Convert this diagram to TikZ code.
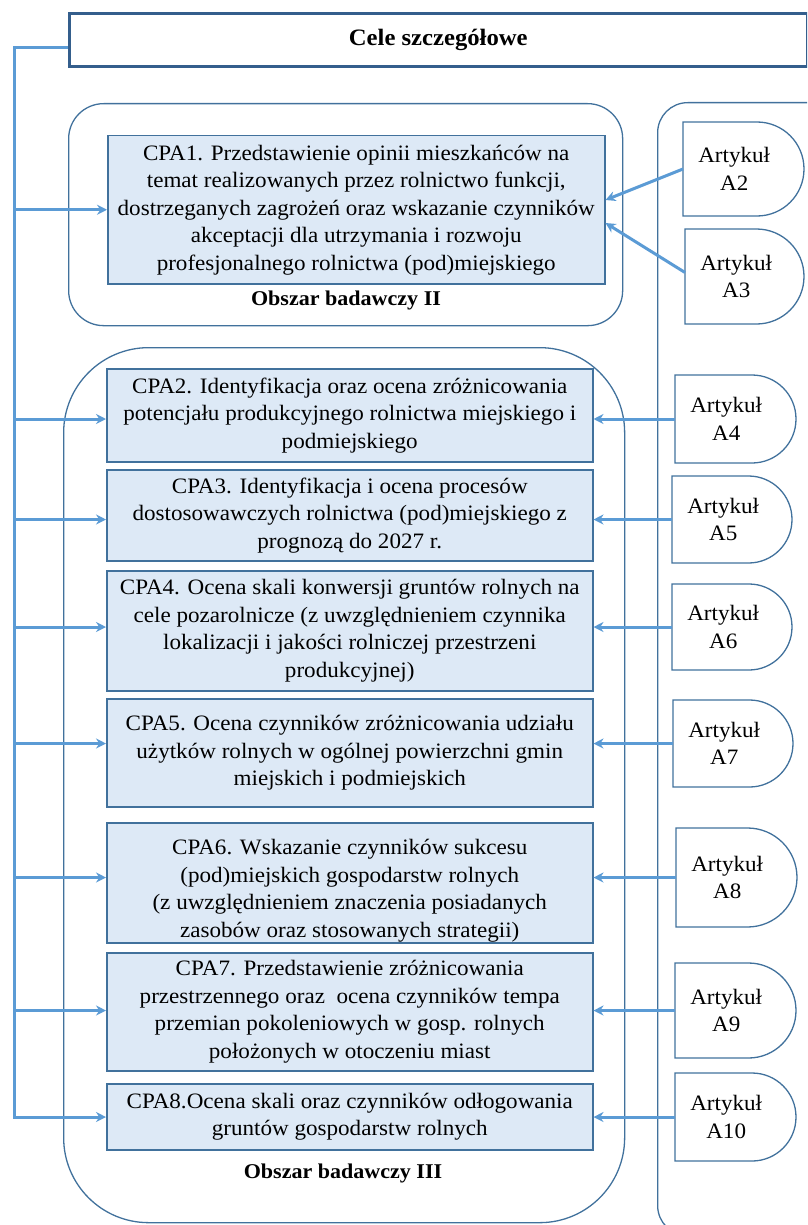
\documentclass[tikz,border=0pt]{standalone}
\usepackage{fontspec}
\setmainfont{Liberation Serif}[FakeStretch=1.05]
\usetikzlibrary{arrows.meta,calc}

\definecolor{arrowblue}{RGB}{91,155,213}
\definecolor{edgeblue}{RGB}{65,113,156}
\definecolor{boxfill}{RGB}{221,233,246}
\definecolor{titleedge}{RGB}{52,94,140}

% D-shaped article badge: name, left, top, bottom, right, number
\newcommand\artykul[6]{%
  \pgfmathsetmacro\artr{(#4-#3)/2}%
  \draw[area] (#2,#3) -- ({#5-\artr},#3)
    arc[start angle=90,end angle=-90,radius=\artr pt] -- (#2,#4) -- cycle;
  \node[arttext] (#1) at (#2,{(#3+#4)/2}) {Artykuł\\#6};
}

\begin{document}
\begin{tikzpicture}[x=1pt,y=-1pt,
  txt/.style={font=\fontsize{22}{27.5}\selectfont, align=center},
  boldtxt/.style={font=\fontsize{21}{27}\selectfont\bfseries, align=center},
  cpa/.style={txt, draw=edgeblue, line width=1.5pt, fill=boxfill,
    inner sep=0pt, anchor=north west},
  area/.style={draw=edgeblue, line width=1.3pt},
  zone/.style={area, inner sep=0pt, anchor=north west},
  link/.style={draw=arrowblue, line width=3pt},
  tip/.style={link, -{Stealth[length=10pt,width=10pt]}},
  arttext/.style={txt, inner sep=0pt, anchor=west, minimum width=102pt},
  ]
\useasboundingbox (0,0) rectangle (807,1225);
\clip (0,0) rectangle (807,1225);

% research areas and the column of articles
\node[zone, rounded corners=35pt, minimum width=554pt, minimum height=222pt]
  (zone2) at (68,103) {};
\node[zone, rounded corners=85pt, minimum width=561pt, minimum height=875pt]
  (zone3) at (63,347) {};
\node[zone, rounded corners=30pt, minimum width=180pt, minimum height=1133pt]
  (column) at (657,102) {};

% title
\node[draw=titleedge, line width=2.6pt, inner sep=0pt, align=center,
  font=\fontsize{23.5}{28}\selectfont\bfseries,
  minimum width=738pt, minimum height=53pt, anchor=north west]
  (cele) at (68,12) {Cele szczegółowe};

% specific objectives
\node[cpa, minimum width=497pt, minimum height=148pt] (cpa1) at (107,135)
  {CPA1. Przedstawienie opinii mieszkańców na\\
   temat realizowanych przez rolnictwo funkcji,\\
   dostrzeganych zagrożeń oraz wskazanie czynników\\
   akceptacji dla utrzymania i rozwoju\\
   profesjonalnego rolnictwa (pod)miejskiego};
\node[boldtxt] (lab2) at (346,300) {Obszar badawczy II};

\node[cpa, minimum width=486pt, minimum height=93pt] (cpa2) at (106,368)
  {CPA2. Identyfikacja oraz ocena zróżnicowania\\
   potencjału produkcyjnego rolnictwa miejskiego i\\
   podmiejskiego};
\node[cpa, minimum width=486pt, minimum height=91pt] (cpa3) at (106,469)
  {CPA3. Identyfikacja i ocena procesów\\
   dostosowawczych rolnictwa (pod)miejskiego z\\
   prognozą do 2027 r.};
\node[cpa, minimum width=486pt, minimum height=120pt] (cpa4) at (106,570)
  {CPA4. Ocena skali konwersji gruntów rolnych na\\
   cele pozarolnicze (z uwzględnieniem czynnika\\
   lokalizacji i jakości rolniczej przestrzeni\\
   produkcyjnej)};
\node[cpa, minimum width=486pt, minimum height=108pt] (cpa5) at (106,698)
  {CPA5. Ocena czynników zróżnicowania udziału\\
   użytków rolnych w ogólnej powierzchni gmin\\
   miejskich i podmiejskich};
% the text of this box runs past its lower edge and is cut there
\node[cpa, minimum width=486pt, minimum height=120pt] (cpa6) at (106,822) {};
\begin{scope}
  \clip ([shift={(0.75pt,0.75pt)}]cpa6.south west)
    rectangle ([shift={(-0.75pt,-0.75pt)}]cpa6.north east);
  \node[txt, inner sep=0pt] (cpa6text) at ([yshift=-8pt]cpa6.center)
    {CPA6. Wskazanie czynników sukcesu\\
     (pod)miejskich gospodarstw rolnych\\
     (z uwzględnieniem znaczenia posiadanych\\
     zasobów oraz stosowanych strategii)};
\end{scope}
\node[cpa, minimum width=486pt, minimum height=118pt] (cpa7) at (106,952)
  {CPA7. Przedstawienie zróżnicowania\\
   przestrzennego oraz \ ocena czynników tempa\\
   przemian pokoleniowych w gosp. rolnych\\
   położonych w otoczeniu miast};
\node[cpa, minimum width=486pt, minimum height=66pt] (cpa8) at (106,1083)
  {CPA8.Ocena skali oraz czynników odłogowania\\
   gruntów gospodarstw rolnych};
\node[boldtxt] (lab3) at (343,1173) {Obszar badawczy III};

% articles
\artykul{a2}{683}{122}{216}{804}{A2}
\artykul{a3}{685}{229}{324}{804}{A3}
\artykul{a4}{675}{375}{463}{796}{A4}
\artykul{a5}{672}{476}{563}{792}{A5}
\artykul{a6}{672}{584}{670}{792}{A6}
\artykul{a7}{673}{700}{787}{793}{A7}
\artykul{a8}{676}{828}{927}{797}{A8}
\artykul{a9}{675}{963}{1058}{796}{A9}
\artykul{a10}{675}{1073}{1161}{796}{A10}

% spine from the title to every objective
\coordinate (spinetop) at (14,48);
\draw[tip] (spinetop -| cele.west) -- (spinetop) -- (spinetop |- a10.west)
  -- (a10.west -| cpa8.west);
\draw[tip] (spinetop |- cpa1.west) -- (cpa1.west);
\draw[tip] (spinetop |- a4.west) -- (a4.west -| cpa2.west);
\draw[tip] (spinetop |- a5.west) -- (a5.west -| cpa3.west);
\draw[tip] (spinetop |- a6.west) -- (a6.west -| cpa4.west);
\draw[tip] (spinetop |- a7.west) -- (a7.west -| cpa5.west);
\draw[tip] (spinetop |- a8.west) -- (a8.west -| cpa6.west);
\draw[tip] (spinetop |- a9.west) -- (a9.west -| cpa7.west);

% articles feeding the objectives
\draw[tip] (a2.west) -- ([yshift=-65pt]cpa1.north east);
\draw[tip] ([yshift=4pt]a3.west) -- ([yshift=-88pt]cpa1.north east);
\draw[tip] (a4.west) -- (a4.west -| cpa2.east);
\draw[tip] (a5.west) -- (a5.west -| cpa3.east);
\draw[tip] (a6.west) -- (a6.west -| cpa4.east);
\draw[tip] (a7.west) -- (a7.west -| cpa5.east);
\draw[tip] (a8.west) -- (a8.west -| cpa6.east);
\draw[tip] (a9.west) -- (a9.west -| cpa7.east);
\draw[tip] (a10.west) -- (a10.west -| cpa8.east);
\end{tikzpicture}
\end{document}
